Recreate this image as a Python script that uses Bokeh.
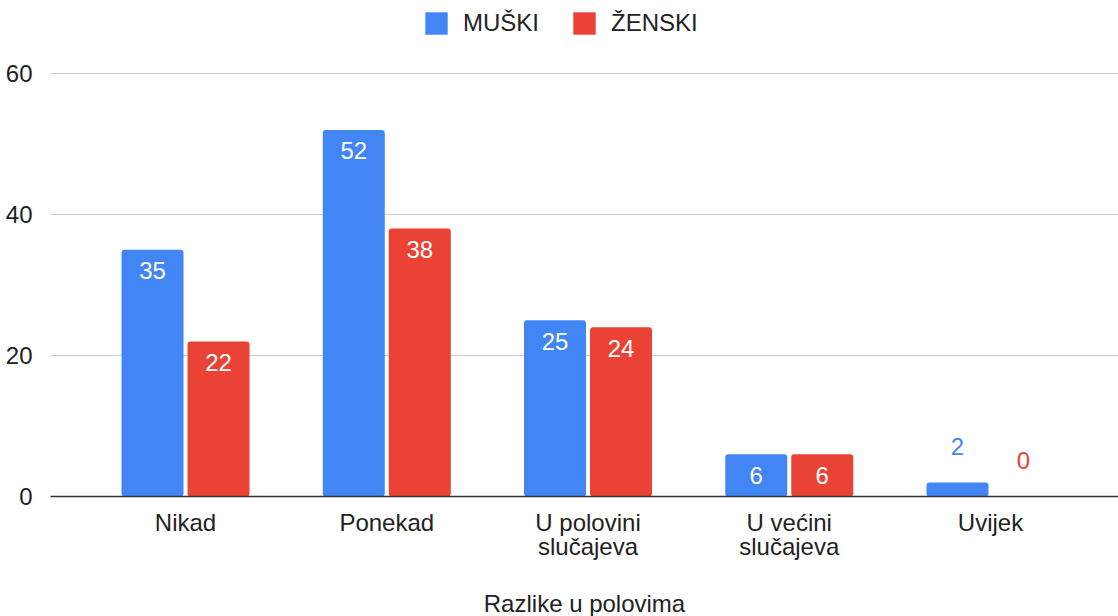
from bokeh.plotting import figure
from bokeh.models import ColumnDataSource, Range1d, Legend, LegendItem, FixedTicker
from bokeh.embed import file_html
from bokeh.resources import INLINE
from bokeh.core.properties import value

categories = ["Nikad", "Ponekad", "U polovini\nslučajeva", "U većini\nslučajeva", "Uvijek"]
muski = [35, 52, 25, 6, 2]
zenski = [22, 38, 24, 6, 0]
series_names = ["MUŠKI", "ŽENSKI"]
y_ticks = [0, 20, 40, 60]
x_title = "Razlike u polovima"

BLUE = "#4285F4"
RED = "#EA4335"
FONT = "Liberation Sans"
FS = "24px"
TXT = "#222222"

idx = list(range(len(categories)))
off = 0.164
bw = 0.308

p = figure(width=1118, height=616, output_backend="svg", toolbar_location=None,
           x_range=Range1d(-0.671, 4.636), y_range=Range1d(0, 69.22),
           frame_width=1068, frame_height=488,
           min_border_left=50, min_border_right=0, min_border_top=8, min_border_bottom=120)
p.outline_line_color = None
p.background_fill_color = "white"
p.border_fill_color = "white"

src_m = ColumnDataSource(dict(x=[i - off for i in idx], top=muski))
src_z = ColumnDataSource(dict(x=[i + off for i in idx], top=zenski))

r_m = p.vbar(x="x", top="top", width=bw, source=src_m, fill_color=BLUE, line_color=None,
             border_radius=3)
r_z = p.vbar(x="x", top="top", width=bw, source=src_z, fill_color=RED, line_color=None,
             border_radius=3)

# data labels: inside (white) for tall bars, above (coloured) for short ones
def add_labels(xs, vals, color):
    ins = dict(x=[], y=[], t=[])
    out = dict(x=[], y=[], t=[])
    for x, v in zip(xs, vals):
        d = ins if v >= 5 else out
        d["x"].append(x); d["y"].append(v); d["t"].append(str(v))
    p.text(x="x", y="y", text="t", source=ColumnDataSource(ins), text_color="white",
           text_font=value(FONT), text_font_size=FS, text_align="center",
           text_baseline="middle", y_offset=21)
    p.text(x="x", y="y", text="t", source=ColumnDataSource(out), text_color=color,
           text_font=value(FONT), text_font_size=FS, text_align="center",
           text_baseline="middle", y_offset=-36)

add_labels(src_m.data["x"], muski, BLUE)
add_labels(src_z.data["x"], zenski, RED)

# axes
p.yaxis.ticker = FixedTicker(ticks=y_ticks)
p.yaxis.axis_line_color = None
p.yaxis.major_tick_line_color = None
p.yaxis.minor_tick_line_color = None
p.yaxis.major_label_text_font = FONT
p.yaxis.major_label_text_font_size = FS
p.yaxis.major_label_text_color = TXT
p.yaxis.major_label_standoff = 12

p.xaxis.ticker = FixedTicker(ticks=idx)
p.xaxis.major_label_overrides = {i: c for i, c in zip(idx, categories)}
p.xaxis.axis_line_color = "#333333"
p.xaxis.axis_line_width = 1.5
p.xaxis.major_tick_line_color = None
p.xaxis.minor_tick_line_color = None
p.xaxis.major_label_text_font = FONT
p.xaxis.major_label_text_font_size = FS
p.xaxis.major_label_text_line_height = 0.89
p.xaxis.major_label_text_color = TXT
p.xaxis.major_label_standoff = 6
p.xaxis.axis_label = x_title
p.xaxis.axis_label_text_font = FONT
p.xaxis.axis_label_text_font_size = FS
p.xaxis.axis_label_text_font_style = "normal"
p.xaxis.axis_label_text_color = TXT
p.xaxis.axis_label_standoff = 27

p.xgrid.grid_line_color = None
p.ygrid.ticker = FixedTicker(ticks=y_ticks)
p.ygrid.grid_line_color = "#cccccc"
p.ygrid.grid_line_width = 1

legend = Legend(items=[LegendItem(label=series_names[0], renderers=[r_m]),
                       LegendItem(label=series_names[1], renderers=[r_z])],
                orientation="horizontal",
                border_line_color=None, background_fill_alpha=0,
                glyph_width=28, glyph_height=28, label_standoff=13, spacing=31,
                label_text_font=FONT, label_text_font_size=FS,
                label_text_color=TXT, margin=0, padding=4)
legend.location = (372, 459)
p.add_layout(legend)

open("out.html", "w").write(file_html(p, INLINE))
